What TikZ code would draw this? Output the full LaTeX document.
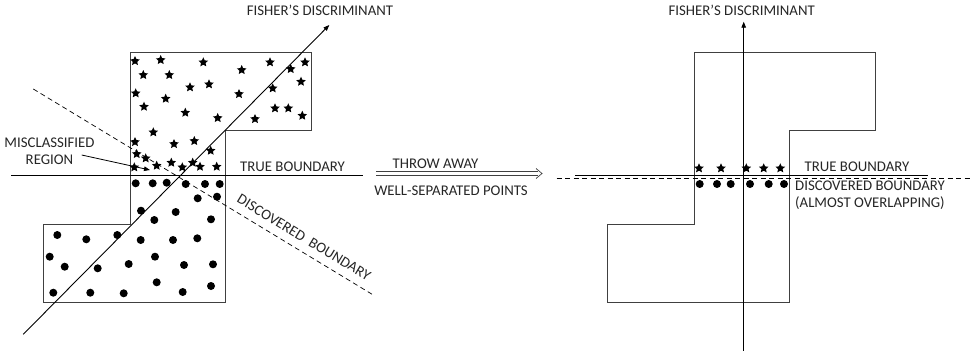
\documentclass[tikz,border=0pt]{standalone}
\usepackage{fontspec}
\setmainfont{Carlito}
\usetikzlibrary{arrows.meta,shapes.geometric}
\begin{document}
\begin{tikzpicture}[x=1pt,y=-1pt,
  lbl/.style={font=\fontsize{14.8}{16}\selectfont, inner sep=0pt, text=black!85},
  region/.style={draw=black!75, line width=0.8pt},
  axis/.style={line width=0.9pt, -{Triangle[length=6pt,width=4.5pt]}},
  starpt/.style={star, star points=5, star point ratio=2.1, fill=black, minimum size=10pt, inner sep=0pt},
  dotpt/.style={circle, fill=black, minimum size=8pt, inner sep=0pt},
  truebd/.style={line width=0.8pt},
  discbd/.style={dashed, dash pattern=on 5pt off 3.5pt, line width=0.7pt}]
\useasboundingbox (0,0) rectangle (973,356);

% ---------- left figure ----------
\draw[region] (130,52.7) -- (311.7,52.7) -- (311.7,130.7) -- (225,130.7) -- (225,302.3)
  -- (43.3,302.3) -- (43.3,224) -- (130,224) -- cycle;

\foreach \p in {(135,61),(160.7,60),(203.3,62.3),(241.7,70),(270,62.3),(290.7,69),(305,62.3),
  (143.3,75),(169.3,75),(190,87.3),(209,84.3),(239,94),(272.7,88.3),(301,81.7),
  (135.7,93.3),(165.7,98.7),(144,106.7),(185.3,112.7),(217.7,118),(255,119),(275,108.3),(288.3,108.3),(302.3,115.7),
  (153.3,132.3),(135,142),(174,144),(194.3,141),(210.7,150.7),
  (136.7,154),(145.7,158.3),(156.7,165.7),(171.3,162.7),(182.3,167.3),(192.7,162.7),(200,166.7),(216.7,166.7),(134.3,167.3)}
  \node[starpt] at \p {};

\foreach \p in {(135.7,183.3),(152.7,183.3),(166.7,182.7),(185.7,184),(205,184),(219.7,184),
  (197.7,198.3),(217,196.7),
  (141,210.7),(175.7,212),(154.3,220),(211,219.3),
  (57.3,235),(86.3,239.3),(117.3,235),(140.7,240),(173,240),(197.3,238.3),
  (49.7,256.7),(64.7,266.7),(97.7,268.3),(128.7,264),(155,256.7),(184,265),(213,264.3),
  (53.3,292.7),(90.3,292.7),(123.7,293.3),(156.7,282.3),(182.7,292),(211,286)}
  \node[dotpt] at \p {};

\coordinate (tbL1) at (11,175);
\coordinate (tbL2) at (363.3,175);
\draw[truebd] (tbL1) -- (tbL2);

\coordinate (dbL1) at (33.3,89);
\coordinate (dbL2) at (373.3,295);
\draw[discbd] (dbL1) -- (dbL2);

\coordinate (fdL1) at (23.3,334.3);
\coordinate (fdL2) at (329.3,25);
\draw[axis] (fdL1) -- (fdL2);

\node[lbl] (fdLlab) at (320,10.7) {FISHER’S DISCRIMINANT};
\node[lbl] (tbLlab) at (292.5,166.5) {TRUE BOUNDARY};
\node[lbl, align=center] (miscl) at (49.5,151.5) {MISCLASSIFIED\\[1pt]REGION};
\coordinate (misclTip) at (150,170);
\draw[line width=0.8pt, -{Triangle[length=6pt,width=4.5pt]}] (81.7,155) -- (misclTip);
\node[lbl, rotate=-31.2] (dbLlab) at (304,237.5) {DISCOVERED\hspace{0.45em}BOUNDARY};

% ---------- middle ----------
\node[lbl] (throw) at (435.5,164) {THROW AWAY};
\node[lbl] (wsp) at (451,191) {WELL-SEPARATED POINTS};
\coordinate (thA) at (376,173.5);
\coordinate (thB) at (542,173.5);
\draw[line width=0.7pt, draw=black!75] ([yshift=-1.7pt]thA) -- ([xshift=-4pt,yshift=-1.7pt]thB)
  ([yshift=1.7pt]thA) -- ([xshift=-4pt,yshift=1.7pt]thB);
\draw[line width=0.7pt, draw=black!75, line join=miter] ([xshift=-6pt,yshift=-5pt]thB) -- (thB) -- ([xshift=-6pt,yshift=5pt]thB);

% ---------- right figure ----------
\draw[region] (694,52.7) -- (875.5,52.7) -- (875.5,130.7) -- (789.3,130.7) -- (789.3,302.3)
  -- (607.3,302.3) -- (607.3,224) -- (694,224) -- cycle;

\coordinate (tbR1) at (575,175);
\coordinate (tbR2) at (928.3,175);
\draw[truebd] (tbR1) -- (tbR2);
\coordinate (dbR1) at (556.7,178.3);
\coordinate (dbR2) at (973,178.3);
\draw[discbd] (dbR1) -- (dbR2);

\coordinate (fdR1) at (743.7,350.7);
\coordinate (fdR2) at (743.7,21.7);
\draw[axis] (fdR1) -- (fdR2);

\foreach \x in {699,721,746.3,763.7,780.3}
  \node[starpt] at (\x,168.3) {};
\foreach \x in {699.7,717,730.7,750,768.7,784}
  \node[dotpt] at (\x,184) {};

\node[lbl] (fdRlab) at (741.7,10.7) {FISHER’S DISCRIMINANT};
\node[lbl] (tbRlab) at (857,166.5) {TRUE BOUNDARY};
\node[lbl, align=left, anchor=north west] (dbRlab) at (795,181) {DISCOVERED BOUNDARY\\[1pt](ALMOST OVERLAPPING)};
\end{tikzpicture}
\end{document}
